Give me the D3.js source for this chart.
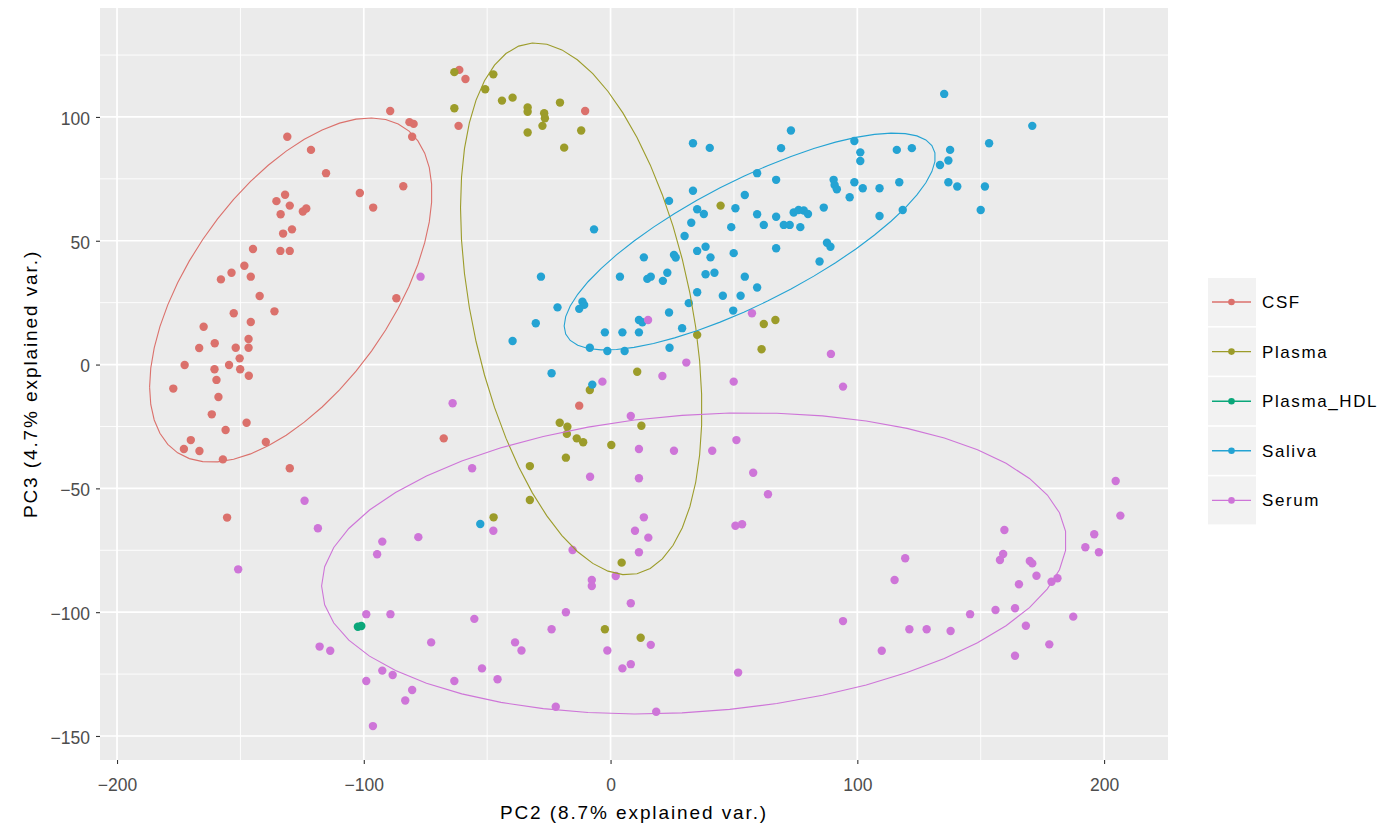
<!DOCTYPE html>
<html>
<head>
<meta charset="utf-8">
<script src="https://cdn.jsdelivr.net/npm/d3@7"></script>
<style>
  html, body { margin: 0; padding: 0; background: #fff; }
  svg { display: block; }
  text { font-family: "Liberation Sans", Arial, sans-serif; }
</style>
</head>
<body>
<svg id="chart" width="1389" height="831"></svg>
<script>
// Sample groups shown in the legend, in order
const groups = ["CSF", "Plasma", "Plasma_HDL", "Saliva", "Serum"];
const groupColors = ["#DB716C", "#9C9C2A", "#0AA77A", "#24A3D3", "#CE75D8"];

// PCA scores [PC2, PC3] per group
const csfPoints = [
  [-89.3,102.4],[-81.5,97.9],[-79.8,97.2],[-80.4,92.0],[-131.0,92.0],[-121.4,86.7],[-115.3,77.3],
  [-101.6,69.3],[-84.0,72.0],[-96.2,63.4],[-131.9,68.6],[-135.4,66.0],[-130.0,64.2],[-133.7,60.7],
  [-124.7,61.8],[-123.3,63.0],[-132.7,52.9],[-129.1,54.6],[-133.8,45.9],[-130.0,45.9],[-144.9,46.7],
  [-148.4,39.9],[-153.6,37.1],[-157.9,34.4],[-145.8,35.5],[-142.2,27.7],[-136.2,21.5],[-152.7,20.7],
  [-145.8,17.2],[-164.9,15.3],[-146.7,10.3],[-160.4,8.6],[-166.7,6.7],[-151.9,6.8],[-146.7,6.8],
  [-150.3,2.5],[-172.6,-0.2],[-154.6,-0.2],[-160.5,-1.9],[-150.1,-1.9],[-146.6,-4.5],[-159.7,-6.2],
  [-177.2,-9.7],[-158.9,-13.1],[-161.6,-20.1],[-147.5,-23.5],[-156.0,-26.4],[-170.1,-30.5],
  [-172.9,-34.1],[-166.6,-34.9],[-157.1,-38.3],[-139.7,-31.3],[-130.0,-41.9],[-86.8,26.8],
  [-67.6,-29.8],[-155.4,-61.8],[-61.3,119.0],[-58.8,115.3],[-61.6,96.4],[-10.3,102.4],[-12.7,-16.6]
];
const plasmaPoints = [
  [-63.3,118.1],[-47.5,117.2],[-50.8,111.2],[-63.3,103.5],[-44.0,106.6],[-39.7,107.8],[-33.6,103.8],
  [-33.6,102.1],[-26.9,101.5],[-26.6,99.5],[-27.6,96.4],[-20.5,105.8],[-33.6,93.7],[-11.9,94.5],
  [-18.8,87.6],[44.6,64.2],[62.1,16.4],[66.8,18.0],[61.2,6.2],[35.1,12.0],[10.8,-2.9],[-20.6,-23.5],
  [-17.5,-25.1],[-17.7,-28.0],[-13.7,-29.8],[-11.1,-31.4],[0.3,-32.5],[12.5,-24.7],[-18.1,-37.6],
  [-32.7,-41.0],[-32.7,-54.7],[-47.4,-61.7],[4.5,-80.0],[-2.3,-106.9],[12.2,-110.3],[-8.4,-10.3]
];
const hdlPoints = [[-102.4,-105.9],[-101.0,-105.6]];
const salivaPoints = [
  [33.4,89.4],[40.2,87.5],[59.4,77.3],[67.1,74.6],[33.4,70.2],[23.7,66.1],[54.4,68.5],[35.1,62.7],
  [37.8,60.8],[50.6,63.1],[59.4,60.7],[67.1,59.7],[32.7,57.3],[48.9,55.5],[62.1,56.4],[-6.7,54.6],
  [30.0,51.9],[38.5,47.6],[35.1,45.9],[67.1,47.0],[40.5,43.3],[49.9,45.0],[13.5,43.3],[25.7,44.3],
  [26.4,43.2],[23.0,37.1],[16.3,35.5],[14.9,34.6],[21.2,33.8],[3.8,35.5],[38.5,36.5],[42.1,37.1],
  [54.4,35.5],[59.4,31.1],[35.1,29.2],[45.5,27.8],[52.7,27.8],[-28.2,35.5],[-11.4,25.4],[-10.7,24.1],
  [-12.7,22.5],[-21.5,23.1],[31.7,24.8],[23.7,21.0],[11.5,18.0],[12.9,17.1],[49.7,21.8],[-2.3,13.0],
  [4.8,13.0],[11.5,13.0],[29.0,14.7],[-8.4,6.8],[-1.3,5.5],[5.7,5.5],[23.9,6.8],[-39.7,9.5],
  [-30.3,16.7],[-23.9,-3.5],[-52.8,-64.4],[-7.4,-8.1],
  [135.2,109.3],[73.1,94.5],[153.4,89.4],[69.1,87.4],[98.8,90.3],[101.2,85.7],[101.2,82.2],
  [116.0,86.7],[122.1,87.4],[137.6,86.7],[136.9,82.4],[133.5,80.6],[90.4,74.6],[90.8,72.5],
  [91.7,70.8],[98.8,73.6],[102.2,71.2],[109.0,71.2],[117.0,73.6],[136.9,73.6],[140.5,71.9],
  [151.7,71.9],[150.0,62.4],[96.9,67.6],[86.4,63.4],[74.2,61.4],[76.2,62.4],[78.3,62.2],[80.0,60.8],
  [70.2,56.4],[72.6,56.4],[76.9,55.5],[109.0,60.0],[118.4,62.4],[87.7,49.2],[89.1,47.6],[84.7,41.6],
  [170.9,96.4]
];
const serumPoints = [
  [-77.0,35.5],[57.3,20.7],[89.3,4.3],[94.2,-8.9],[49.9,-6.9],[30.7,0.8],[21.0,-4.6],[-3.3,-6.9],
  [15.2,18.0],[-64.0,-15.6],[8.2,-20.8],[11.5,-34.1],[25.7,-34.8],[41.2,-34.8],[51.0,-30.5],
  [-56.1,-41.9],[-8.3,-45.3],[11.5,-45.9],[-47.5,-67.1],[13.5,-61.7],[9.9,-67.1],[15.3,-69.9],
  [50.6,-65.1],[57.8,-43.7],[63.8,-52.4],[53.3,-64.5],[11.5,-75.8],[-15.4,-74.9],[-7.6,-87.0],
  [-7.6,-89.4],[2.1,-85.4],[8.2,-96.4],[-18.1,-100.0],[-23.9,-106.9],[-55.2,-102.7],[-72.7,-112.2],
  [-38.7,-112.2],[-36.1,-115.5],[-52.1,-122.7],[-45.8,-127.1],[-63.3,-127.8],[-22.2,-138.2],
  [18.5,-140.2],[-1.3,-115.5],[4.8,-122.7],[8.2,-121.0],[16.3,-113.2],[51.7,-124.4],[94.2,-103.6],
  [-124.0,-55.0],[-118.6,-66.1],[-150.9,-82.7],[-92.5,-71.5],[-94.6,-76.6],[-77.9,-69.7],
  [-99.0,-100.8],[-89.2,-100.8],[-117.9,-113.9],[-113.6,-115.6],[-92.5,-123.6],[-88.3,-125.4],
  [-99.0,-127.8],[-80.4,-131.4],[-83.2,-135.7],[-96.3,-146.0],
  [204.7,-47.0],[206.6,-61.0],[196.0,-68.5],[192.4,-73.8],[197.9,-75.8],[187.5,-101.8],[159.6,-66.8],
  [159.1,-76.5],[157.8,-78.9],[169.9,-79.3],[170.9,-80.3],[172.6,-85.3],[165.5,-88.7],[178.7,-87.7],
  [181.1,-86.3],[156.0,-99.1],[163.9,-98.4],[168.3,-105.5],[145.7,-100.8],[177.8,-113.0],
  [163.9,-117.6],[119.4,-78.2],[115.1,-87.0],[121.1,-106.9],[128.1,-106.9],[137.8,-107.6],
  [109.9,-115.6]
];
const groupPoints = [csfPoints, plasmaPoints, hdlPoints, salivaPoints, serumPoints];

// Normal-probability ellipses per group: centre, spread along PC2/PC3, correlation
const ellipseGroups = ["CSF", "Plasma", "Saliva", "Serum"];
const ellipseCenters = [[-129.6, 30.1], [-11.9, 22.5], [56.4, 49.7], [33.8, -80.3]];
const ellipseSpreads = [[57.2, 69.5], [48.9, 107.4], [75.2, 43.8], [150.9, 60.8]];
const ellipseCorr = [0.564, -0.380, 0.779, 0.15];

// Axis breaks and labels
const xMajor = [-200, -100, 0, 100, 200];
const xMinor = [-150, -50, 50, 150];
const yMajor = [-150, -100, -50, 0, 50, 100];
const yMinor = [-125, -75, -25, 25, 75, 125];
const xTitle = "PC2 (8.7% explained var.)";
const yTitle = "PC3 (4.7% explained var.)";

const svg = d3.select("#chart");
const panel = { left: 100, right: 1168, top: 8, bottom: 760 };

const x = d3.scaleLinear().domain([-206.9, 225.9]).range([panel.left, panel.right]);
const y = d3.scaleLinear().domain([-159.7, 144.0]).range([panel.bottom, panel.top]);
const color = d3.scaleOrdinal().domain(groups).range(groupColors);

// Panel background and grid
svg.append("rect")
  .attr("x", panel.left).attr("y", panel.top)
  .attr("width", panel.right - panel.left).attr("height", panel.bottom - panel.top)
  .attr("fill", "#EBEBEB");

const grid = svg.append("g");
grid.selectAll("line.xmin").data(xMinor).join("line")
  .attr("x1", d => x(d)).attr("x2", d => x(d))
  .attr("y1", panel.top).attr("y2", panel.bottom)
  .attr("stroke", "#fff").attr("stroke-width", 0.9);
grid.selectAll("line.ymin").data(yMinor).join("line")
  .attr("y1", d => y(d)).attr("y2", d => y(d))
  .attr("x1", panel.left).attr("x2", panel.right)
  .attr("stroke", "#fff").attr("stroke-width", 0.9);
grid.selectAll("line.xmaj").data(xMajor).join("line")
  .attr("x1", d => x(d)).attr("x2", d => x(d))
  .attr("y1", panel.top).attr("y2", panel.bottom)
  .attr("stroke", "#fff").attr("stroke-width", 1.7);
grid.selectAll("line.ymaj").data(yMajor).join("line")
  .attr("y1", d => y(d)).attr("y2", d => y(d))
  .attr("x1", panel.left).attr("x2", panel.right)
  .attr("stroke", "#fff").attr("stroke-width", 1.7);

// Axes
const xAxis = svg.append("g")
  .attr("transform", `translate(0,${panel.bottom})`)
  .call(d3.axisBottom(x).tickValues(xMajor).tickSize(4).tickPadding(27).tickFormat(d3.format("d")));
const yAxis = svg.append("g")
  .attr("transform", `translate(${panel.left},0)`)
  .call(d3.axisLeft(y).tickValues(yMajor).tickSize(4).tickPadding(6).tickFormat(d3.format("d")));
[xAxis, yAxis].forEach(a => {
  a.select(".domain").remove();
  a.selectAll(".tick line").attr("stroke", "#333").attr("stroke-width", 1.1);
  a.selectAll(".tick text")
    .attr("fill", "#4D4D4D")
    .style("font-size", "17.5px")
    .style("font-family", "'Liberation Sans', Arial, sans-serif");
});
xAxis.selectAll(".tick text").attr("dy", "0");
yAxis.selectAll(".tick text").attr("dy", "0.42em");

// Points
const pts = svg.append("g");
groupPoints.forEach((arr, gi) => {
  pts.append("g").selectAll("circle").data(arr).join("circle")
    .attr("cx", d => x(d[0])).attr("cy", d => y(d[1]))
    .attr("r", 4.2)
    .attr("fill", color(groups[gi]));
});

// Ellipses: centre + unit circle scaled by the Cholesky factor of the covariance
const theta = d3.range(50).map(i => -Math.PI + 2 * Math.PI * i / 49);
const ellLine = d3.line().x(d => x(d[0])).y(d => y(d[1]));
ellipseGroups.forEach((g, i) => {
  const [cx, cy] = ellipseCenters[i];
  const [sx, sy] = ellipseSpreads[i];
  const r = ellipseCorr[i];
  const path = theta.map(t => [
    cx + Math.cos(t) * sx,
    cy + Math.cos(t) * r * sy + Math.sin(t) * sy * Math.sqrt(1 - r * r)
  ]);
  svg.append("path")
    .attr("d", ellLine(path))
    .attr("fill", "none")
    .attr("stroke", color(g))
    .attr("stroke-width", 1.1);
});

// Axis titles
svg.append("text")
  .attr("x", (panel.left + panel.right) / 2).attr("y", 819)
  .attr("text-anchor", "middle")
  .style("font-size", "19px").style("letter-spacing", "1.9px")
  .attr("fill", "#000")
  .text(xTitle);
svg.append("text")
  .attr("transform", `translate(37,${(panel.top + panel.bottom) / 2}) rotate(-90)`)
  .attr("text-anchor", "middle")
  .style("font-size", "19px").style("letter-spacing", "1.9px")
  .attr("fill", "#000")
  .text(yTitle);

// Legend
const legend = svg.append("g").attr("transform", "translate(1208,278)");
const keySize = 48, keyStep = 49.6;
const items = legend.selectAll("g").data(groups).join("g")
  .attr("transform", (d, i) => `translate(0,${i * keyStep})`);
items.append("rect")
  .attr("width", keySize).attr("height", keySize)
  .attr("fill", "#F2F2F2");
items.append("line")
  .attr("x1", 4).attr("x2", keySize - 5)
  .attr("y1", keySize / 2).attr("y2", keySize / 2)
  .attr("stroke", d => color(d)).attr("stroke-width", 1.4);
items.append("circle")
  .attr("cx", keySize / 2 - 0.5).attr("cy", keySize / 2).attr("r", 3.3)
  .attr("fill", d => color(d));
items.append("text")
  .attr("x", 54).attr("y", keySize / 2 + 6)
  .style("font-size", "17px").style("letter-spacing", "1.6px")
  .attr("fill", "#000")
  .text(d => d);
</script>
</body>
</html>
